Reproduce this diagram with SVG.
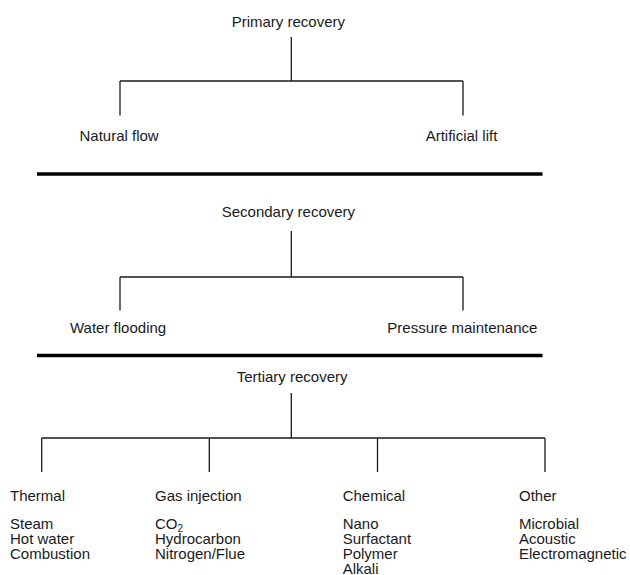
<svg xmlns="http://www.w3.org/2000/svg" width="630" height="575" viewBox="0 0 630 575">
<style>
text{font-family:"Liberation Sans",Arial,sans-serif;font-size:15px;fill:#1a1a1a}
.c{fill:none;stroke:#1a1a1a;stroke-width:1.3}
.sep{stroke:#000;stroke-width:3.6}
</style>
<rect width="630" height="575" fill="#fff"/>
<g id="connectors">
<path class="c" d="M291.3 37V81M120 81H463M120 81V115.5M463 81V115.5"/>
<path class="c" d="M291.3 231V277M120 277H463M120 277V310.5M463 277V310.5"/>
<path class="c" d="M291.3 393V438M41.7 438H545M41.7 438V472M209.3 438V472M377.5 438V472M545 438V472"/>
</g>
<g id="separators">
<line class="sep" x1="37" y1="174" x2="542.5" y2="174"/>
<line class="sep" x1="37" y1="355.5" x2="542.5" y2="355.5"/>
</g>
<g id="primary"><text x="231.7" y="27">Primary recovery</text></g>
<g id="natural-flow"><text x="79.5" y="141">Natural flow</text></g>
<g id="artificial-lift"><text x="425.7" y="141">Artificial lift</text></g>
<g id="secondary"><text x="221.7" y="216.7">Secondary recovery</text></g>
<g id="water-flooding"><text x="70" y="333.3">Water flooding</text></g>
<g id="pressure-maintenance"><text x="387.3" y="333.3">Pressure maintenance</text></g>
<g id="tertiary"><text x="236.7" y="382">Tertiary recovery</text></g>
<g id="thermal"><text x="10" y="501">Thermal</text>
<text x="10" y="529">Steam</text><text x="10" y="544">Hot water</text><text x="10" y="559">Combustion</text></g>
<g id="gas-injection"><text x="155" y="501">Gas injection</text>
<text x="155" y="529">CO<tspan font-size="10" dy="3">2</tspan></text><text x="155" y="544">Hydrocarbon</text><text x="155" y="559">Nitrogen/Flue</text></g>
<g id="chemical"><text x="342.7" y="501">Chemical</text>
<text x="342.7" y="529">Nano</text><text x="342.7" y="544">Surfactant</text><text x="342.7" y="559">Polymer</text><text x="342.7" y="573.5">Alkali</text></g>
<g id="other"><text x="519" y="501">Other</text>
<text x="519" y="529">Microbial</text><text x="519" y="544">Acoustic</text><text x="519" y="559">Electromagnetic</text></g>
</svg>
